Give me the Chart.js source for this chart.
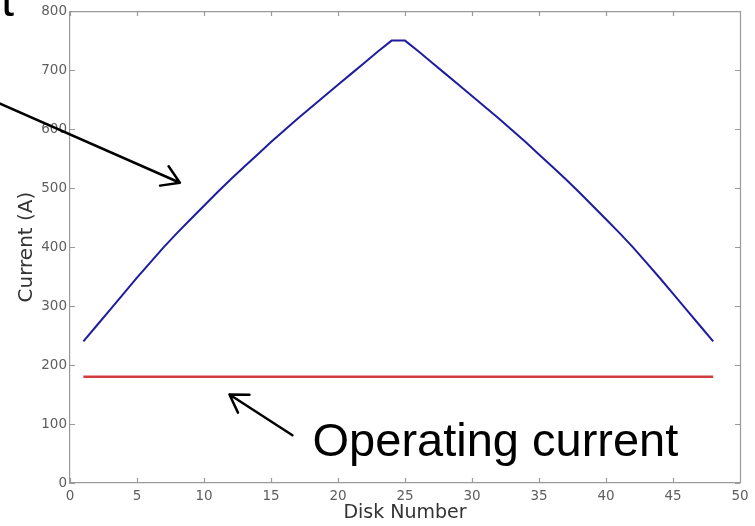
<!DOCTYPE html>
<html>
<head>
<meta charset="utf-8">
<title>Disk current</title>
<script src="https://cdn.jsdelivr.net/npm/chart.js@4/dist/chart.umd.min.js"></script>
<style>
  html, body { margin: 0; padding: 0; background: #fff; }
  #wrap { width: 755px; height: 526px; }
</style>
</head>
<body>
<div id="wrap"><canvas id="chart" width="755" height="526"></canvas></div>
<script>
// Disk index along the coil
const disks = [1, 2, 3, 4, 5, 6, 7, 8, 9, 10, 11, 12, 13, 14, 15, 16, 17, 18, 19, 20, 21, 22, 23, 24,
               25, 26, 27, 28, 29, 30, 31, 32, 33, 34, 35, 36, 37, 38, 39, 40, 41, 42, 43, 44, 45, 46, 47, 48];

// Critical current of each disk (A)
const criticalCurrent = [240, 267, 294, 321, 348, 374, 400, 424, 447, 470, 493, 515, 536, 557, 578, 598, 618, 637, 656, 675, 694, 713, 732, 750,
                         750, 732, 713, 694, 675, 656, 637, 618, 598, 578, 557, 536, 515, 493, 470, 447, 424, 400, 374, 348, 321, 294, 267, 240];

// Operating current (A), the same for every disk
const operatingCurrent = [180, 180, 180, 180, 180, 180, 180, 180, 180, 180, 180, 180, 180, 180, 180, 180, 180, 180, 180, 180, 180, 180, 180, 180,
                          180, 180, 180, 180, 180, 180, 180, 180, 180, 180, 180, 180, 180, 180, 180, 180, 180, 180, 180, 180, 180, 180, 180, 180];

const xTicks = [0, 5, 10, 15, 20, 25, 30, 35, 40, 45, 50];
const yTicks = [0, 100, 200, 300, 400, 500, 600, 700, 800];

const AXIS_FONT = 'DejaVu Sans';
const NOTE_FONT = '"Liberation Sans", Arial, sans-serif';
const AXIS_GREY = '#9a9a9a';
const TICK_TEXT = '#5e5e5e';
const TITLE_TEXT = '#333333';

function toPoints(xs, ys) {
  return xs.map((v, i) => ({ x: v, y: ys[i] }));
}

// Box around the plot with inward tick marks on all four sides
const framePlugin = {
  id: 'frame',
  afterDraw(chart) {
    const { ctx, chartArea: a, scales: { x, y } } = chart;
    const len = 5;
    ctx.save();
    ctx.strokeStyle = AXIS_GREY;
    ctx.lineWidth = 1.2;
    ctx.beginPath();
    ctx.moveTo(a.left, a.top + 0.5);
    ctx.lineTo(a.right, a.top + 0.5);
    ctx.moveTo(a.right + 0.5, a.top);
    ctx.lineTo(a.right + 0.5, a.bottom);
    xTicks.forEach(v => {
      const px = Math.round(x.getPixelForValue(v)) + 0.5;
      ctx.moveTo(px, a.bottom);
      ctx.lineTo(px, a.bottom - len);
      ctx.moveTo(px, a.top);
      ctx.lineTo(px, a.top + len);
    });
    yTicks.forEach(v => {
      const py = Math.round(y.getPixelForValue(v)) + 0.5;
      ctx.moveTo(a.left, py);
      ctx.lineTo(a.left + len, py);
      ctx.moveTo(a.right, py);
      ctx.lineTo(a.right - len, py);
    });
    ctx.stroke();
    ctx.restore();
  }
};

// Callout arrows and notes, placed in data coordinates
function drawArrow(ctx, x1, y1, x2, y2) {
  const ang = Math.atan2(y1 - y2, x1 - x2);
  const arm = 20, spread = 32 * Math.PI / 180;
  ctx.beginPath();
  ctx.moveTo(x1, y1);
  ctx.lineTo(x2, y2);
  ctx.moveTo(x2 + arm * Math.cos(ang - spread), y2 + arm * Math.sin(ang - spread));
  ctx.lineTo(x2, y2);
  ctx.lineTo(x2 + arm * Math.cos(ang + spread), y2 + arm * Math.sin(ang + spread));
  ctx.stroke();
}

const notesPlugin = {
  id: 'notes',
  afterDraw(chart) {
    const { ctx, scales: { x, y } } = chart;
    ctx.save();
    ctx.strokeStyle = '#000';
    ctx.lineWidth = 2.5;
    ctx.lineCap = 'round';
    ctx.lineJoin = 'round';
    drawArrow(ctx, x.getPixelForValue(-5.3), y.getPixelForValue(644),
                   x.getPixelForValue(8.2), y.getPixelForValue(509));
    drawArrow(ctx, x.getPixelForValue(16.6), y.getPixelForValue(81),
                   x.getPixelForValue(11.9), y.getPixelForValue(150));
    ctx.fillStyle = '#000';
    ctx.font = '47px ' + NOTE_FONT;
    ctx.textBaseline = 'alphabetic';
    ctx.textAlign = 'left';
    ctx.fillText('Operating current', x.getPixelForValue(18.1), y.getPixelForValue(46.4));
    ctx.fillText('t', 1, 16);
    ctx.restore();
  }
};

new Chart(document.getElementById('chart'), {
  type: 'line',
  data: {
    datasets: [
      {
        label: 'Critical current',
        data: toPoints(disks, criticalCurrent),
        borderColor: '#1d1d9e',
        borderWidth: 2,
        pointRadius: 0,
        tension: 0,
        fill: false
      },
      {
        label: 'Operating current',
        data: toPoints(disks, operatingCurrent),
        borderColor: '#d23c3c',
        borderWidth: 2.5,
        pointRadius: 0,
        tension: 0,
        fill: false
      }
    ]
  },
  options: {
    responsive: false,
    devicePixelRatio: 1,
    animation: false,
    layout: { padding: { left: 0, right: 15, top: 11, bottom: 0 } },
    plugins: {
      legend: { display: false },
      tooltip: { enabled: false }
    },
    scales: {
      x: {
        type: 'linear',
        min: 0,
        max: 50,
        afterBuildTicks: s => { s.ticks = xTicks.map(v => ({ value: v })); },
        afterFit: s => { s.height = 43; },
        ticks: {
          color: TICK_TEXT,
          font: { family: AXIS_FONT, size: 13.5 },
          padding: 5,
          maxRotation: 0,
          autoSkip: false
        },
        grid: { drawOnChartArea: false, drawTicks: false },
        border: { color: AXIS_GREY, width: 1.2 },
        title: {
          display: true,
          text: 'Disk Number',
          color: TITLE_TEXT,
          font: { family: AXIS_FONT, size: 19 },
          padding: { top: 0, bottom: 2 }
        }
      },
      y: {
        type: 'linear',
        min: 0,
        max: 800,
        afterBuildTicks: s => { s.ticks = yTicks.map(v => ({ value: v })); },
        afterFit: s => { s.width = 70; },
        ticks: {
          color: TICK_TEXT,
          font: { family: AXIS_FONT, size: 13.5 },
          padding: 3
        },
        grid: { drawOnChartArea: false, drawTicks: false },
        border: { color: AXIS_GREY, width: 1.2 },
        title: {
          display: true,
          text: 'Current (A)',
          color: TITLE_TEXT,
          font: { family: AXIS_FONT, size: 20 },
          padding: { top: 15, bottom: 0 }
        }
      }
    }
  },
  plugins: [framePlugin, notesPlugin]
});
</script>
</body>
</html>
